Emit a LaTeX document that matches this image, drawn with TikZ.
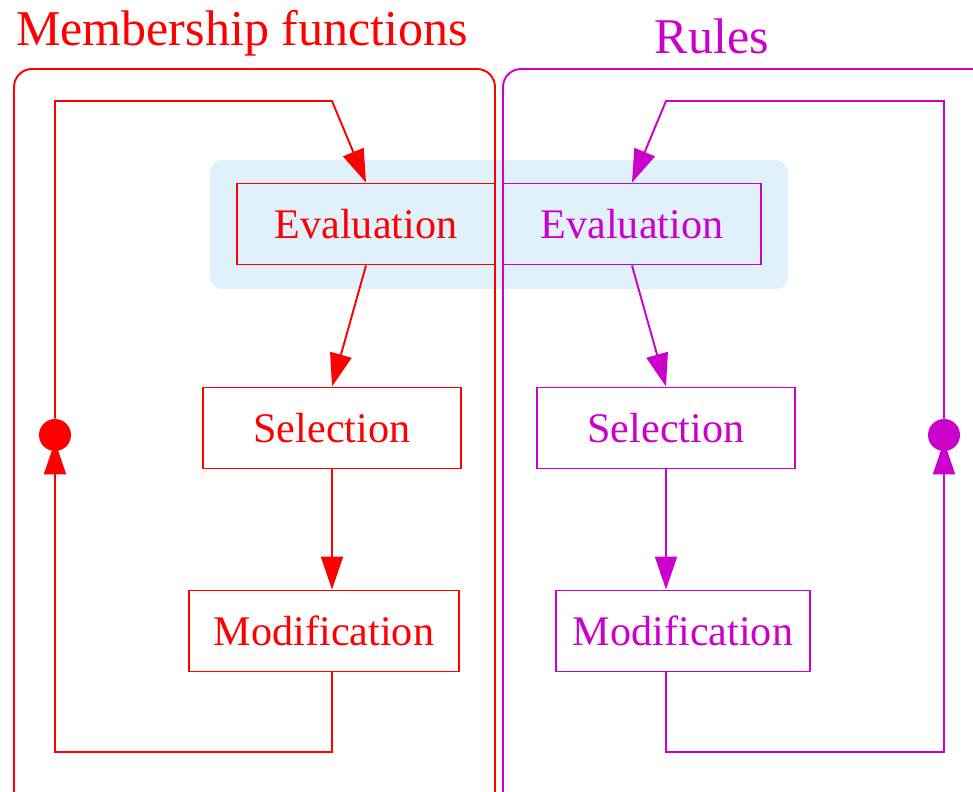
\documentclass[tikz,border=0pt]{standalone}
\usepackage{fontspec}
\setmainfont{Liberation Serif}
\usetikzlibrary{arrows.meta}

\definecolor{mfred}{HTML}{FF0000}
\definecolor{rulemag}{HTML}{CC00CC}
\definecolor{evalblue}{HTML}{E0F1FC}

\tikzset{
  stage/.style={draw, fill=none, line width=1.1pt, minimum height=1.62cm, inner sep=0pt,
    font=\fontsize{24}{28}\selectfont},
  wire/.style={line width=1.1pt},
  flow/.style={wire, -{Triangle[length=0.66cm,width=0.44cm]}},
  loopdot/.style={circle, fill, inner sep=0pt, minimum size=0.64cm},
  title/.style={anchor=base, font=\fontsize{28.5}{32}\selectfont},
}

\begin{document}
\begin{tikzpicture}[x=0.02cm, y=-0.02cm]
\useasboundingbox (0,0) rectangle (973,791);

% shared evaluation band
\fill[evalblue, rounded corners=0.24cm] (210,160) rectangle (788,289);

% the two groups
\draw[mfred, wire, rounded corners=0.36cm] (14,69) rectangle (495,840);
\draw[rulemag, wire, rounded corners=0.36cm] (503,69) rectangle (1010,840);
\node[title, mfred] (mftitle) at (242,45) {Membership functions};
\node[title, rulemag] (rtitle) at (712,53) {Rules};

% membership functions
\node[stage, mfred, minimum width=5.16cm] (leval) at (366,224) {Evaluation};
\node[stage, mfred, minimum width=5.16cm] (lsel) at (332,428) {Selection};
\node[stage, mfred, minimum width=5.4cm] (lmod) at (324,631) {Modification};
\node[loopdot, mfred] (ldot) at (55,435) {};
\coordinate (lbot) at (55,752);
\coordinate (ltop) at (55,101);
\coordinate (lbend) at (332,101);

\draw[mfred, flow] (leval.south) -- (lsel.north);
\draw[mfred, flow] (lsel.south) -- (lsel.south |- lmod.north);
\draw[mfred, flow, shorten >=-0.2cm] (lsel.south |- lmod.south) -- (lsel.south |- lbot) -- (lbot) -- (ldot.south);
\draw[mfred, flow] (ldot) -- (ltop) -- (lbend) -- (leval.north);

% rules
\node[stage, rulemag, minimum width=5.16cm] (reval) at (632,224) {Evaluation};
\node[stage, rulemag, minimum width=5.16cm] (rsel) at (666,428) {Selection};
\node[stage, rulemag, minimum width=5.08cm] (rmod) at (683,631) {Modification};
\node[loopdot, rulemag] (rdot) at (944,435) {};
\coordinate (rbot) at (944,752);
\coordinate (rtop) at (944,101);
\coordinate (rbend) at (666,101);

\draw[rulemag, flow] (reval.south) -- (rsel.north);
\draw[rulemag, flow] (rsel.south) -- (rsel.south |- rmod.north);
\draw[rulemag, flow, shorten >=-0.2cm] (rsel.south |- rmod.south) -- (rsel.south |- rbot) -- (rbot) -- (rdot.south);
\draw[rulemag, flow] (rdot) -- (rtop) -- (rbend) -- (reval.north);
\end{tikzpicture}
\end{document}
